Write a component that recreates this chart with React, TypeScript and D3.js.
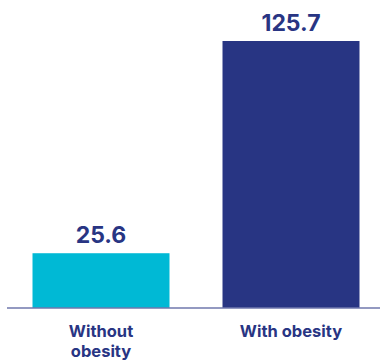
import React from "react";
import * as d3 from "d3";

const categories = ["Without obesity", "With obesity"];
const labelLines = [["Without", "obesity"], ["With obesity"]];
const values = [25.6, 125.7];
const colors = ["#00B9D5", "#283583"];

export default function App() {
  const W = 380, H = 360;
  const x = d3.scaleBand<string>().domain(categories).range([6, 386]).paddingInner(0.279).paddingOuter(0.1395);
  const y = d3.scaleLinear().domain([0, 125.7]).range([307.5, 41]);
  const navy = "#283583";
  return (
    <svg width={W} height={H} style={{ position: "absolute", left: 0, top: 0 }} fontFamily="Inter, sans-serif">
      <rect width={W} height={H} fill="#fff" />
      {categories.map((c, i) => (
        <g key={c}>
          <rect x={x(c)} y={y(values[i])} width={x.bandwidth()} height={y(0) - y(values[i])} fill={colors[i]} />
          <text x={x(c)! + x.bandwidth() / 2} y={y(values[i]) - 10} textAnchor="middle" fontSize={23} fontWeight={700} fill={navy}>
            {values[i].toFixed(1)}
          </text>
          {labelLines[i].map((l, j) => (
            <text key={j} x={x(c)! + x.bandwidth() / 2} y={337 + j * 20} textAnchor="middle" fontSize={16.5} fontWeight={700} fill={navy}>
              {l}
            </text>
          ))}
        </g>
      ))}
      <line x1={7} x2={380} y1={y(0) + 0.5} y2={y(0) + 0.5} stroke={navy} strokeWidth={1.2} />
    </svg>
  );
}
